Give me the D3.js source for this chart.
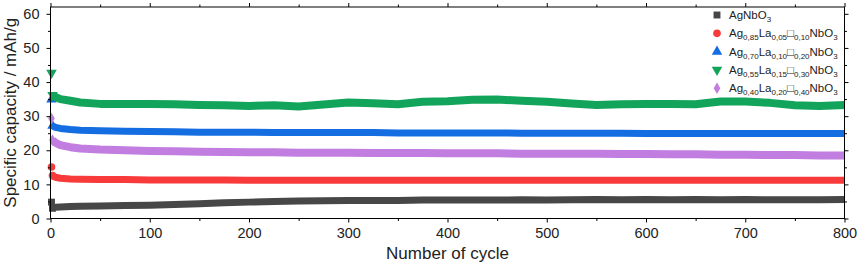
<!DOCTYPE html>
<html>
<head>
<meta charset="utf-8">
<script src="https://cdn.jsdelivr.net/npm/d3@7"></script>
<style>
  body { margin: 0; background: #fff; }
  #chart { width: 858px; height: 273px; }
  text { font-family: "Liberation Sans", Arial, sans-serif; fill: #222; }
</style>
</head>
<body>
<div id="chart"></div>
<script>
/* DATA (specific capacity, mAh/g) */
var cycles = [1, 2, 3, 5, 10, 20, 30, 50, 75, 100, 125, 150, 175, 200, 225, 250, 275, 300, 325, 350,
    375, 400, 425, 450, 475, 500, 525, 550, 575, 600, 625, 650, 675, 700, 725, 750, 775, 800];

var agNbO3 = [4.8, 3.0, 3.1, 3.3, 3.4, 3.5, 3.6, 3.7, 3.8, 3.9, 4.1, 4.3, 4.6, 4.8, 5.0, 5.1, 5.2, 5.3, 5.3, 5.3,
    5.4, 5.4, 5.4, 5.4, 5.5, 5.4, 5.5, 5.6, 5.5, 5.6, 5.5, 5.6, 5.5, 5.6, 5.5, 5.5, 5.5, 5.6];
var la005 = [15.1, 12.6, 12.3, 12.1, 11.8, 11.6, 11.5, 11.4, 11.4, 11.3, 11.3, 11.3, 11.3, 11.2, 11.2, 11.2, 11.2, 11.2, 11.2, 11.2,
    11.2, 11.2, 11.2, 11.2, 11.2, 11.2, 11.2, 11.2, 11.2, 11.2, 11.2, 11.2, 11.2, 11.2, 11.2, 11.2, 11.2, 11.2];
var la010 = [34.9, 27.2, 27.0, 26.7, 26.4, 26.1, 25.9, 25.7, 25.6, 25.5, 25.4, 25.3, 25.3, 25.3, 25.2, 25.2, 25.2, 25.2, 25.2, 25.1,
    25.1, 25.1, 25.1, 25.1, 25.0, 25.0, 25.0, 25.0, 25.0, 24.9, 24.9, 24.9, 24.9, 24.9, 24.9, 24.9, 24.9, 24.9];
var la015 = [42.7, 36.2, 36.0, 35.6, 35.0, 34.5, 34.0, 33.6, 33.6, 33.6, 33.5, 33.3, 33.2, 33.0, 33.2, 32.8, 33.4, 34.0, 33.8, 33.5,
    34.2, 34.4, 34.8, 34.9, 34.5, 34.2, 33.7, 33.3, 33.5, 33.6, 33.6, 33.5, 34.3, 34.3, 33.9, 33.2, 33.0, 33.3];
var la020 = [29.3, 23.0, 22.7, 22.2, 21.5, 20.9, 20.5, 20.2, 20.0, 19.8, 19.7, 19.6, 19.5, 19.4, 19.4, 19.3, 19.3, 19.3, 19.2, 19.2,
    19.2, 19.1, 19.1, 19.1, 19.0, 19.0, 19.0, 19.0, 18.9, 18.9, 18.8, 18.8, 18.7, 18.7, 18.6, 18.6, 18.5, 18.5];

var seriesNames = ["AgNbO_{3}",
    "Ag_{0,85}La_{0,05}\u25A1_{0,10}NbO_{3}",
    "Ag_{0,70}La_{0,10}\u25A1_{0,20}NbO_{3}",
    "Ag_{0,55}La_{0,15}\u25A1_{0,30}NbO_{3}",
    "Ag_{0,40}La_{0,20}\u25A1_{0,40}NbO_{3}"];
var seriesValues = [agNbO3, la005, la010, la015, la020];

var xTicks = [0, 100, 200, 300, 400, 500, 600, 700, 800];
var yTicks = [0, 10, 20, 30, 40, 50, 60];

/* STYLES */
var colors = ["#474747", "#f83a3a", "#156de2", "#13a45c", "#c17ddf"];
var bandWidth = [7, 7, 7, 8, 8];
var symbols = [d3.symbolSquare, d3.symbolCircle, d3.symbolTriangle, d3.symbolTriangle, d3.symbolDiamond];
var symbolSize = [48, 46, 48, 48, 38];
var symbolRot = [0, 0, 0, 180, 0];

/* SVG */
var width = 858, height = 273;
var margin = { left: 50.5, right: 13.5, top: 7, bottom: 54.5 };
var svg = d3.select("#chart").append("svg")
    .attr("width", width)
    .attr("height", height);

var x = d3.scaleLinear().domain([0, 800]).range([margin.left, width - margin.right]);
var y = d3.scaleLinear().domain([0, 62]).range([height - margin.bottom, margin.top]);

/* BANDS (dense scatter drawn as a thick line) AND FIRST-CYCLE POINTS */
var line = d3.line()
    .x(function(d) { return x(d.c); })
    .y(function(d) { return y(d.v); });

var order = [0, 1, 2, 4, 3];
order.forEach(function(i) {
    var pts = cycles.map(function(c, k) { return { c: c, v: seriesValues[i][k] }; });
    svg.append("path")
        .datum(pts.slice(1))
        .attr("fill", "none")
        .attr("stroke", colors[i])
        .attr("stroke-width", bandWidth[i])
        .attr("stroke-linejoin", "round")
        .attr("d", line);
    // start cap of the band
    svg.append("path")
        .attr("fill", colors[i])
        .attr("d", d3.symbol().type(symbols[i]).size(symbolSize[i]))
        .attr("transform", "translate(" + x(pts[1].c) + "," + y(pts[1].v) + ") rotate(" + symbolRot[i] + ")");
    svg.append("path")
        .attr("fill", colors[i])
        .attr("d", d3.symbol().type(symbols[i]).size(symbolSize[i]))
        .attr("transform", "translate(" + x(pts[0].c) + "," + y(pts[0].v) + ") rotate(" + symbolRot[i] + ")");
});

/* AXES */
function styleAxis(g) {
    g.select(".domain").remove();
    g.selectAll("line").attr("stroke", "#000");
    g.selectAll("text").style("font-size", "14.5px").attr("fill", "#222");
}
var xb = y(0), xt = margin.top, yl = margin.left, yr = width - margin.right;
var minorX = d3.range(50, 800, 100), minorY = d3.range(5, 62, 10);

svg.append("g").attr("transform", "translate(0," + xb + ")")
    .call(d3.axisBottom(x).tickValues(xTicks).tickSize(4).tickPadding(5).tickSizeOuter(0)).call(styleAxis);
svg.append("g").attr("transform", "translate(0," + xb + ")")
    .call(d3.axisBottom(x).tickValues(minorX).tickSize(2.5).tickFormat("")).call(styleAxis);
svg.append("g").attr("transform", "translate(0," + xt + ")")
    .call(d3.axisTop(x).tickValues(xTicks).tickSize(4).tickFormat("")).call(styleAxis);
svg.append("g").attr("transform", "translate(0," + xt + ")")
    .call(d3.axisTop(x).tickValues(minorX).tickSize(2.5).tickFormat("")).call(styleAxis);
svg.append("g").attr("transform", "translate(" + yl + ",0)")
    .call(d3.axisLeft(y).tickValues(yTicks).tickSize(4).tickPadding(7)).call(styleAxis);
svg.append("g").attr("transform", "translate(" + yl + ",0)")
    .call(d3.axisLeft(y).tickValues(minorY).tickSize(2.5).tickFormat("")).call(styleAxis);
svg.append("g").attr("transform", "translate(" + yr + ",0)")
    .call(d3.axisRight(y).tickValues(yTicks).tickSize(4).tickFormat("")).call(styleAxis);
svg.append("g").attr("transform", "translate(" + yr + ",0)")
    .call(d3.axisRight(y).tickValues(minorY).tickSize(2.5).tickFormat("")).call(styleAxis);

svg.append("rect")
    .attr("x", yl).attr("y", xt)
    .attr("width", yr - yl).attr("height", xb - xt)
    .attr("fill", "none").attr("stroke", "#000").attr("stroke-width", 1);

/* TITLES */
svg.append("text")
    .attr("x", (yl + yr) / 2).attr("y", 259)
    .attr("text-anchor", "middle")
    .style("font-size", "17px")
    .text("Number of cycle");
svg.append("text")
    .attr("transform", "translate(15.5," + ((xt + xb) / 2) + ") rotate(-90)")
    .attr("text-anchor", "middle")
    .style("font-size", "17px")
    .text("Specific capacity / mAh/g");

/* LEGEND */
var legend = svg.append("g");
seriesNames.forEach(function(name, i) {
    var cy = 15 + i * 18.3;
    legend.append("path")
        .attr("fill", colors[i])
        .attr("d", d3.symbol().type(symbols[i]).size(symbolSize[i]))
        .attr("transform", "translate(717," + cy + ") rotate(" + symbolRot[i] + ")");
    var t = legend.append("text")
        .attr("x", 729).attr("y", cy + 4)
        .style("font-size", "11.5px");
    var parts = name.split(/_\{([^}]*)\}/);
    var shift = 0;
    parts.forEach(function(p, k) {
        if (p === "") return;
        var s = k % 2 === 1 ? 3 : 0;
        var ts = t.append("tspan").attr("dy", s - shift).text(p);
        if (s) ts.style("font-size", "8px");
        shift = s;
    });
});
</script>
</body>
</html>
